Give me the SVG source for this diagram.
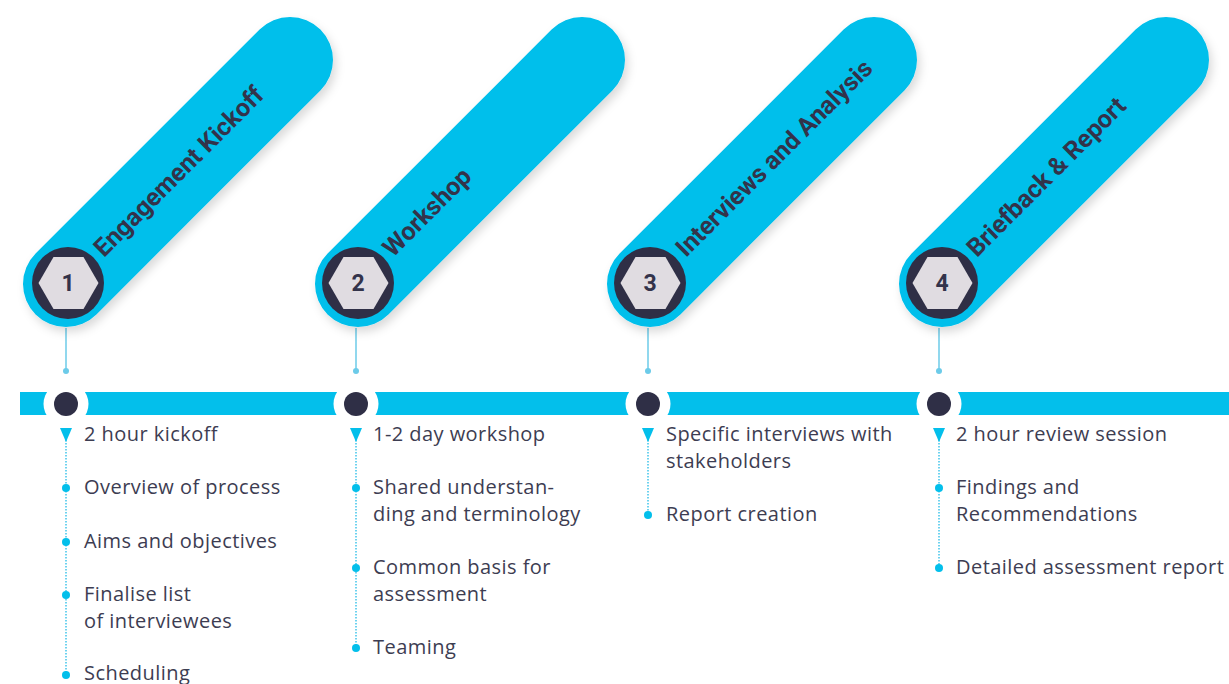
<svg xmlns="http://www.w3.org/2000/svg" width="1229" height="684" viewBox="0 0 1229 684">
<defs>
<style>
.pill{stroke:#03bfeb;stroke-width:86;stroke-linecap:round;fill:none}
.ring{fill:#2f2f46}
.hex{fill:#e0dce1}
.num{font-family:Roboto,"Liberation Sans",sans-serif;font-weight:bold;font-size:23px;fill:#33334a;text-anchor:middle}
.title{font-family:Roboto,"Liberation Sans",sans-serif;font-weight:bold;font-size:25px;fill:#33334a}
.item{font-family:"Open Sans","Liberation Sans",sans-serif;font-size:20px;letter-spacing:0.45px;fill:#3d3d52}
.conn{stroke:#6ccbe9;stroke-width:1.5}
.dots{stroke:#3fc4ea;stroke-width:1.5;stroke-dasharray:1.5 1.5}
.bul{fill:#03bfeb}
.pin{fill:#6ccbe9}
</style>
<filter id="sh" filterUnits="userSpaceOnUse" x="0" y="0" width="1229" height="360">
<feDropShadow dx="3" dy="5" stdDeviation="5" flood-color="#000" flood-opacity="0.15"/>
</filter>
<polygon id="hexShape" points="-30,0 -15,-26 15,-26 30,0 15,26 -15,26"/>
<path id="tri" d="M-6,0 L6,0 L0,14 Z"/>
</defs>

<rect x="20" y="392" width="1209" height="23" fill="#03bfeb"/>

<g id="connectors">
<line class="conn" x1="66" y1="328" x2="66" y2="371"/>
<circle class="pin" cx="66" cy="371" r="3"/>
<line class="conn" x1="356" y1="328" x2="356" y2="371"/>
<circle class="pin" cx="356" cy="371" r="3"/>
<line class="conn" x1="648" y1="328" x2="648" y2="371"/>
<circle class="pin" cx="648" cy="371" r="3"/>
<line class="conn" x1="939" y1="328" x2="939" y2="371"/>
<circle class="pin" cx="939" cy="371" r="3"/>
<line class="dots" x1="66" y1="440" x2="66" y2="676"/>
<line class="dots" x1="356" y1="440" x2="356" y2="649"/>
<line class="dots" x1="648" y1="440" x2="648" y2="516"/>
<line class="dots" x1="939" y1="440" x2="939" y2="569"/>
</g>

<g id="step1">
<line class="pill" x1="66" y1="284" x2="290" y2="60" filter="url(#sh)"/>
<circle class="ring" cx="68" cy="283" r="36"/>
<use href="#hexShape" class="hex" x="68.5" y="283"/>
<text class="num" x="68" y="291">1</text>
<text class="title" transform="translate(104,258) rotate(-45)">Engagement Kickoff</text>
<circle cx="66" cy="404" r="22.5" fill="#fff"/>
<circle class="ring" cx="66" cy="404" r="12"/>
<use href="#tri" class="bul" x="66" y="428"/>
<circle class="bul" cx="66" cy="488" r="4"/>
<circle class="bul" cx="66" cy="542" r="4"/>
<circle class="bul" cx="66" cy="595" r="4"/>
<circle class="bul" cx="66" cy="675" r="4"/>
<text class="item" x="84" y="441">2 hour kickoff</text>
<text class="item" x="84" y="494">Overview of process</text>
<text class="item" x="84" y="548">Aims and objectives</text>
<text class="item" x="84" y="601">Finalise list</text>
<text class="item" x="84" y="628">of interviewees</text>
<text class="item" x="84" y="680">Scheduling</text>
</g>

<g id="step2">
<line class="pill" x1="358" y1="284" x2="582" y2="60" filter="url(#sh)"/>
<circle class="ring" cx="358" cy="283" r="36"/>
<use href="#hexShape" class="hex" x="358.5" y="283"/>
<text class="num" x="358" y="291">2</text>
<text class="title" transform="translate(393,258) rotate(-45)">Workshop</text>
<circle cx="356" cy="404" r="22.5" fill="#fff"/>
<circle class="ring" cx="356" cy="404" r="12"/>
<use href="#tri" class="bul" x="356" y="428"/>
<circle class="bul" cx="356" cy="488" r="4"/>
<circle class="bul" cx="356" cy="568" r="4"/>
<circle class="bul" cx="356" cy="648" r="4"/>
<text class="item" x="373" y="441">1-2 day workshop</text>
<text class="item" x="373" y="494">Shared understan-</text>
<text class="item" x="373" y="521">ding and terminology</text>
<text class="item" x="373" y="574">Common basis for</text>
<text class="item" x="373" y="601">assessment</text>
<text class="item" x="373" y="654">Teaming</text>
</g>

<g id="step3">
<line class="pill" x1="650" y1="284" x2="874" y2="60" filter="url(#sh)"/>
<circle class="ring" cx="650" cy="283" r="36"/>
<use href="#hexShape" class="hex" x="650.5" y="283"/>
<text class="num" x="650" y="291">3</text>
<text class="title" transform="translate(686,258) rotate(-45)">Interviews and Analysis</text>
<circle cx="648" cy="404" r="22.5" fill="#fff"/>
<circle class="ring" cx="648" cy="404" r="12"/>
<use href="#tri" class="bul" x="648" y="428"/>
<circle class="bul" cx="648" cy="515" r="4"/>
<text class="item" x="666" y="441">Specific interviews with</text>
<text class="item" x="666" y="468">stakeholders</text>
<text class="item" x="666" y="521">Report creation</text>
</g>

<g id="step4">
<line class="pill" x1="942" y1="284" x2="1166" y2="60" filter="url(#sh)"/>
<circle class="ring" cx="942" cy="283" r="36"/>
<use href="#hexShape" class="hex" x="942.5" y="283"/>
<text class="num" x="942" y="291">4</text>
<text class="title" transform="translate(977,258) rotate(-45)">Briefback &amp; Report</text>
<circle cx="939" cy="404" r="22.5" fill="#fff"/>
<circle class="ring" cx="939" cy="404" r="12"/>
<use href="#tri" class="bul" x="939" y="428"/>
<circle class="bul" cx="939" cy="488" r="4"/>
<circle class="bul" cx="939" cy="568" r="4"/>
<text class="item" x="956" y="441">2 hour review session</text>
<text class="item" x="956" y="494">Findings and</text>
<text class="item" x="956" y="521">Recommendations</text>
<text class="item" x="956" y="574">Detailed assessment report</text>
</g>
</svg>
